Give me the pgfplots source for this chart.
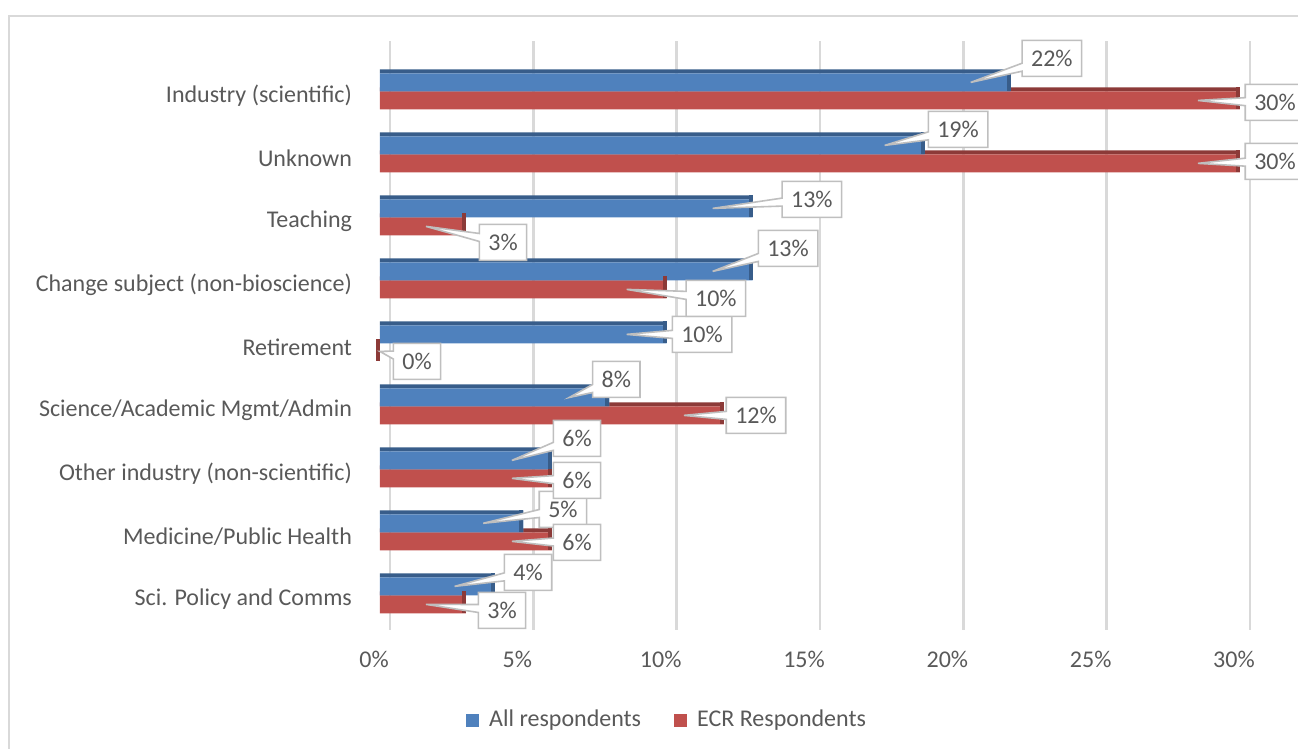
\documentclass[border=0pt]{standalone}
\usepackage{fontspec}
\setmainfont{Carlito}
\usepackage{pgfplots}
\usepackage{pgfplotstable}
\pgfplotsset{compat=1.18}
\usetikzlibrary{shapes.callouts}
\definecolor{txtgray}{HTML}{595959}
\definecolor{gridgray}{HTML}{D9D9D9}
\definecolor{boxgray}{HTML}{BFBFBF}
\definecolor{bluefront}{HTML}{4F81BD}
\definecolor{bluetop}{HTML}{385D8A}
\definecolor{redfront}{HTML}{C0504D}
\definecolor{redtop}{HTML}{8C3A38}

% All respondents: pos = category index (0 = top), val = percent,
% dx/dy = label offset from bar end (pt), rx/ry = callout pointer (pt)
\pgfplotstableread{
pos val dx dy rx ry
0 22 20.6 12 -25.7 -7.6
1 19 16.7 8 -21.8 -4.75
2 13 29.6 4.5 -34.7 -3.15
3 13 17.7 11.5 -22.8 -6.95
4 10 17.7 0 -22.8 0
5 8 3.5 9 -11.7 -4.5
6 6 12.5 11 -20.7 -7.0
7 5 19.8 7 -28.0 -4.9
8 4 16.7 7 -24.9 -4.75
}\allresp

% ECR respondents
\pgfplotstableread{
pos val dx dy rx ry
0 30 17.5 -1 -23.6 0.6
1 30 17.5 1 -23.6 -0.6
2 3 18.5 -8 -26.7 5.55
3 10 24.6 -4.5 -29.7 3.0
4 0 18.5 -4.5 -6.7 1.8
5 12 16 0 -21.1 0
6 6 12.5 -1 -20.7 0.64
7 6 12.5 -0.5 -20.7 0.32
8 3 18 -3 -26.2 2.07
}\ecrresp

\pgfplotsset{
  calloutlabels/.style={
    draw=none, fill=none, forget plot,
    point meta=x,
    nodes near coords={\pgfmathprintnumber{\pgfplotspointmeta}\%},
    visualization depends on={\thisrow{dx}\as\dx},
    visualization depends on={\thisrow{dy}\as\dy},
    visualization depends on={\thisrow{rx}\as\rx},
    visualization depends on={\thisrow{ry}\as\ry},
    every node near coord/.append style={
      anchor=center, shape=rectangle callout, fill=white, draw=boxgray,
      line width=0.8pt, text=txtgray, inner xsep=4.5pt, inner ysep=0pt,
      minimum height=18pt, callout pointer width=4pt,
      xshift=\dx pt, yshift=\dy pt,
      callout relative pointer={(canvas cs:x={\rx*1pt},y={\ry*1pt})}
    }
  }
}

\begin{document}
\begin{tikzpicture}[font=\fontsize{12}{14}\selectfont]
\useasboundingbox (0,0) rectangle (649pt,-374.5pt);
\draw[gridgray, line width=1pt] (4.5pt,-390pt) -- (4.5pt,-8pt) -- (670pt,-8pt);
\begin{axis}[
  at={(190pt,-315pt)}, anchor=south west,
  width=430pt, height=294.5pt, scale only axis,
  clip=false,
  xbar, bar width=9pt,
  xmin=0, xmax=30,
  ymin=-0.8, ymax=8.55,
  y dir=reverse,
  xtick={0,5,...,30},
  xticklabel={\pgfmathprintnumber{\tick}\%},
  /pgf/number format/assume math mode=true,
  ytick={0,...,8},
  yticklabels={Industry (scientific),Unknown,Teaching,Change subject (non-bioscience),Retirement,Science/Academic Mgmt/Admin,Other industry (non-scientific),Medicine/Public Health,Sci. Policy and Comms},
  tick label style={text=txtgray},
  xticklabel style={xshift=-3pt, yshift=-7pt},
  yticklabel style={xshift=-10.5pt, yshift=-2pt},
  major tick length=0pt,
  axis line style={draw=none},
  xmajorgrids,
  major grid style={draw=gridgray, line width=1.2pt, xshift=5pt},
  legend style={at={(axis description cs:0.335,-0.153)}, anchor=center,
    draw=none, fill=none, text=txtgray, legend columns=2,
    /tikz/every odd column/.append style={column sep=3pt},
    /tikz/every even column/.append style={column sep=14.5pt}},
  legend image code/.code={\fill[#1] (-3.25pt,-3.25pt) rectangle (3.25pt,3.25pt);},
]
\addlegendimage{draw=none, fill=bluefront}
\addlegendentry{All respondents}
\addlegendimage{draw=none, fill=redfront}
\addlegendentry{ECR Respondents}
% ECR: top face, front face, side face
\addplot[draw=none, fill=redtop, bar width=2pt, bar shift=1pt, forget plot] table[x=val,y=pos] {\ecrresp};
\addplot[draw=none, fill=redfront, bar shift=-4.5pt, forget plot] table[x=val,y=pos] {\ecrresp};
\addplot[only marks, mark=|, mark size=5.5pt, forget plot,
  mark options={draw=redtop, line width=2pt, xshift=-1pt, yshift=-3.5pt}]
  table[x=val,y=pos] {\ecrresp};
% All respondents: top face, front face, side face
\addplot[draw=none, fill=bluetop, bar width=2pt, bar shift=10pt, forget plot] table[x=val,y=pos] {\allresp};
\addplot[draw=none, fill=bluefront, bar shift=4.5pt, forget plot] table[x=val,y=pos] {\allresp};
\addplot[only marks, mark=|, mark size=5.5pt, forget plot,
  mark options={draw=bluetop, line width=2pt, xshift=-1pt, yshift=5.5pt}]
  table[x=val,y=pos] {\allresp};
% labels
\addplot[calloutlabels, bar shift=4.5pt] table[x=val,y=pos] {\allresp};
\addplot[calloutlabels, bar shift=-4.5pt] table[x=val,y=pos] {\ecrresp};
\end{axis}
\end{tikzpicture}
\end{document}
